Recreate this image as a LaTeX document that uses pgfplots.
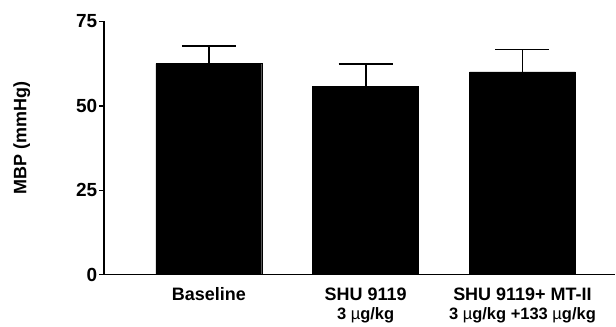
\documentclass[border=0pt]{standalone}
\usepackage{fontspec}
\setmainfont{Liberation Sans}
\usepackage{pgfplots}
\pgfplotsset{compat=1.18}
\begin{document}
\begin{tikzpicture}
\begin{axis}[
 scale only axis, width=512pt, height=253.5pt,
 xmin=-0.669, xmax=2.592, ymin=0, ymax=75,
 axis x line*=bottom, axis y line*=left,
 axis line style={line width=1.4pt},
 clip=false,
 ytick={0,25,50,75},
 tick align=outside, major tick length=5pt,
 ytick style={line width=1.4pt, black},
 xtick={0,1,2}, xtick style={draw=none},
 xticklabels={Baseline, SHU 9119, SHU 9119+ MT-II},
 xticklabel style={anchor=base, yshift=-21pt, font=\fontsize{18}{20}\selectfont\bfseries},
 yticklabel style={font=\fontsize{19}{20}\selectfont\bfseries, inner xsep=1.5pt},
 /pgf/number format/assume math mode=true,
 ylabel={MBP (mmHg)},
 ylabel style={at={(rel axis cs:-0.1607,0.5404)}, anchor=center, font=\fontsize{18}{20}\selectfont\bfseries},
]
\addplot[ybar, bar width=106pt, fill=black, draw=black,
 error bars/.cd, y dir=plus, y explicit,
 error bar style={line width=1.8pt, black},
 error mark options={rotate=90, mark size=27pt, line width=1.8pt, black}]
 coordinates {(0,62.5) +- (0,5.2) (1,55.7) +- (0,6.7) (2,60.1) +- (0,6.6)};
\node[anchor=base, font=\fontsize{16.5}{18}\selectfont\bfseries] at (axis cs:1,0) [yshift=-45pt] {3 {\mdseries µ}g/kg};
\node[anchor=base, font=\fontsize{16.5}{18}\selectfont\bfseries] at (axis cs:2,0) [yshift=-45pt] {3 {\mdseries µ}g/kg +133 {\mdseries µ}g/kg};
\path (rel axis cs:0,0) ++(-104pt,-46pt) coordinate (bbA);
\path (rel axis cs:1,1) ++(0pt,21.5pt) coordinate (bbB);
\end{axis}
\path (bbA) rectangle (bbB);
\end{tikzpicture}
\end{document}
